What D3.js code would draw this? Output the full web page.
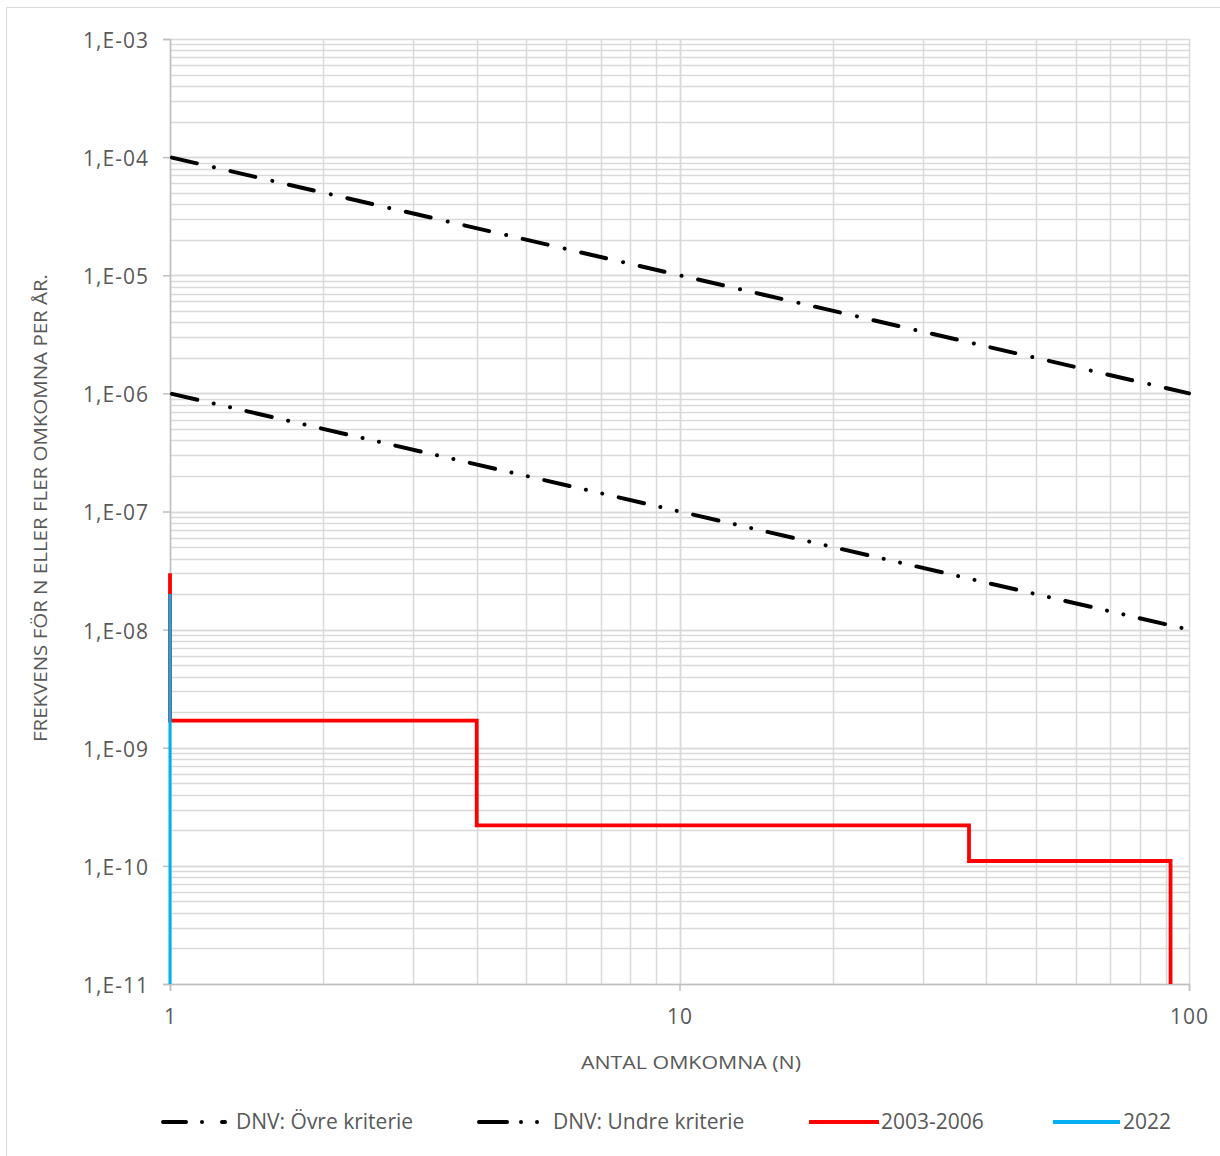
<!DOCTYPE html>
<html>
<head>
<meta charset="utf-8">
<script src="https://cdn.jsdelivr.net/npm/d3@7"></script>
<style>
  body { margin: 0; background: #fff; }
  svg { display: block; }
  text { font-family: "Open Sans", "Noto Sans", sans-serif; fill: #595959; }
</style>
</head>
<body>
<svg id="chart" width="1220" height="1156"></svg>
<script>
// ---- data ----
const xDomain = [1, 100];
const yDomain = [1e-11, 1e-3];
const xTickValues = [1, 10, 100];
const xTickLabels = ["1", "10", "100"];
const yTickValues = [1e-3, 1e-4, 1e-5, 1e-6, 1e-7, 1e-8, 1e-9, 1e-10, 1e-11];
const yTickLabels = ["1,E-03", "1,E-04", "1,E-05", "1,E-06", "1,E-07", "1,E-08", "1,E-09", "1,E-10", "1,E-11"];

const seriesNames = ["DNV: Övre kriterie", "DNV: Undre kriterie", "2003-2006", "2022"];
const ovreN = [1, 100];
const ovreF = [1e-4, 1e-6];
const undreN = [1, 100];
const undreF = [1e-6, 1e-8];
const s2003N = [1, 1, 4, 4, 37, 37, 92, 92];
const s2003F = [3e-8, 1.7e-9, 1.7e-9, 2.2e-10, 2.2e-10, 1.1e-10, 1.1e-10, 1e-11];
const s2022N = [1, 1];
const s2022F = [2e-8, 1e-11];

const xTitle = "ANTAL OMKOMNA (N)";
const yTitle = "FREKVENS FÖR N ELLER FLER OMKOMNA PER ÅR.";

// ---- layout ----
const svg = d3.select("#chart");
const L = 170, R = 1189, T = 39, B = 984;
const x = d3.scaleLog().domain(xDomain).range([L, R]);
const y = d3.scaleLog().domain(yDomain).range([B, T]);

// outer frame (left/top visible)
svg.append("path")
  .attr("d", `M6.5,1160 L6.5,7.5 L1230,7.5`)
  .attr("fill", "none").attr("stroke", "#d9d9d9").attr("stroke-width", 1);

// grid
const xMinor = [];
for (let d = 1; d < 100; d *= 10) for (let k = 1; k <= 10; k++) xMinor.push(d * k);
const yMinor = [];
for (let e = -11; e < -3; e++) for (let k = 1; k <= 10; k++) yMinor.push(k * Math.pow(10, e));

const grid = svg.append("g");
grid.selectAll("line.gx").data(xMinor).join("line")
  .attr("x1", d => Math.round(x(d)) + 0.5).attr("x2", d => Math.round(x(d)) + 0.5)
  .attr("y1", T).attr("y2", B)
  .attr("stroke", "#d9d9d9").attr("stroke-width", 1.5);
grid.selectAll("line.gy").data(yMinor).join("line")
  .attr("y1", d => Math.round(y(d)) + 0.5).attr("y2", d => Math.round(y(d)) + 0.5)
  .attr("x1", L).attr("x2", R)
  .attr("stroke", "#d9d9d9").attr("stroke-width", 1.5);

// axes
const yAxis = d3.axisLeft(y).tickValues(yTickValues)
  .tickFormat((d, i) => yTickLabels[i]).tickSize(7).tickPadding(14);
const gy = svg.append("g").attr("transform", `translate(${L},0)`).call(yAxis)
  .attr("font-size", null).attr("font-family", null);
gy.select(".domain").attr("stroke", "#bfbfbf").attr("stroke-width", 1.5);
gy.selectAll(".tick line").attr("stroke", "#bfbfbf").attr("stroke-width", 1.5);
gy.selectAll(".tick text").style("font-size", "21px").style("fill", "#595959")
  .style("letter-spacing", "1px").attr("dy", "0.4em");

const xAxis = d3.axisBottom(x).tickValues(xTickValues)
  .tickFormat((d, i) => xTickLabels[i]).tickSize(7).tickPadding(18);
const gx = svg.append("g").attr("transform", `translate(0,${B})`).call(xAxis)
  .attr("font-size", null).attr("font-family", null);
gx.select(".domain").attr("stroke", "#bfbfbf").attr("stroke-width", 1.5);
gx.selectAll(".tick line").attr("stroke", "#bfbfbf").attr("stroke-width", 1.5);
gx.selectAll(".tick text").style("font-size", "21px").style("fill", "#595959")
  .style("letter-spacing", "1px");

// axis titles
svg.append("text").attr("x", 691).attr("y", 1069)
  .attr("text-anchor", "middle").style("font-size", "19px")
  .attr("textLength", 220).attr("lengthAdjust", "spacingAndGlyphs")
  .text(xTitle);
svg.append("text")
  .attr("transform", "translate(47,508) rotate(-90)")
  .attr("text-anchor", "middle").style("font-size", "19px")
  .attr("textLength", 468).attr("lengthAdjust", "spacingAndGlyphs")
  .text(yTitle);

// series
const line = d3.line().x(d => x(d[0])).y(d => y(d[1]));
const zip = (a, b) => a.map((v, i) => [v, b[i]]);

const styles = [
  { color: "#000", width: 4, dash: "25.5,17.5,0.01,17", cap: "round" },
  { color: "#000", width: 4, dash: "26,16.8,0.01,16.8,0.01,16.8", cap: "round" },
  { color: "#ff0000", width: 3.8, dash: null, cap: "butt" },
  { color: "#00b0f0", width: 3, dash: null, cap: "butt" }
];
const seriesData = [zip(ovreN, ovreF), zip(undreN, undreF), zip(s2003N, s2003F), zip(s2022N, s2022F)];

const gs = svg.append("g");
seriesData.forEach((data, i) => {
  const st = styles[i];
  const p = gs.append("path").datum(data)
    .attr("d", line)
    .attr("fill", "none")
    .attr("stroke", st.color)
    .attr("stroke-width", st.width)
    .attr("stroke-linecap", st.cap)
    .attr("stroke-linejoin", "miter");
  if (st.dash) p.attr("stroke-dasharray", st.dash).attr("stroke-dashoffset", -2);
});

// legend
const legendItems = [
  { x0: 161, x1: 231, tx: 236 },
  { x0: 477, x1: 542, tx: 553 },
  { x0: 809, x1: 879, tx: 881 },
  { x0: 1053, x1: 1120, tx: 1123 }
];
const legendY = 1122;
const lg = svg.append("g");
legendItems.forEach((it, i) => {
  const st = styles[i];
  const ln = lg.append("line")
    .attr("x1", it.x0).attr("x2", it.x1)
    .attr("y1", legendY).attr("y2", legendY)
    .attr("stroke", st.color).attr("stroke-width", 4)
    .attr("stroke-linecap", st.cap);
  if (st.dash) ln.attr("stroke-dasharray", i === 0 ? "23,16,0.01,20,3,30" : "28,14,0.01,16,0.01,16")
                 .attr("stroke-dashoffset", -2);
  lg.append("text").attr("x", it.tx).attr("y", legendY + 7)
    .style("font-size", "21px").text(seriesNames[i]);
});
</script>
</body>
</html>
